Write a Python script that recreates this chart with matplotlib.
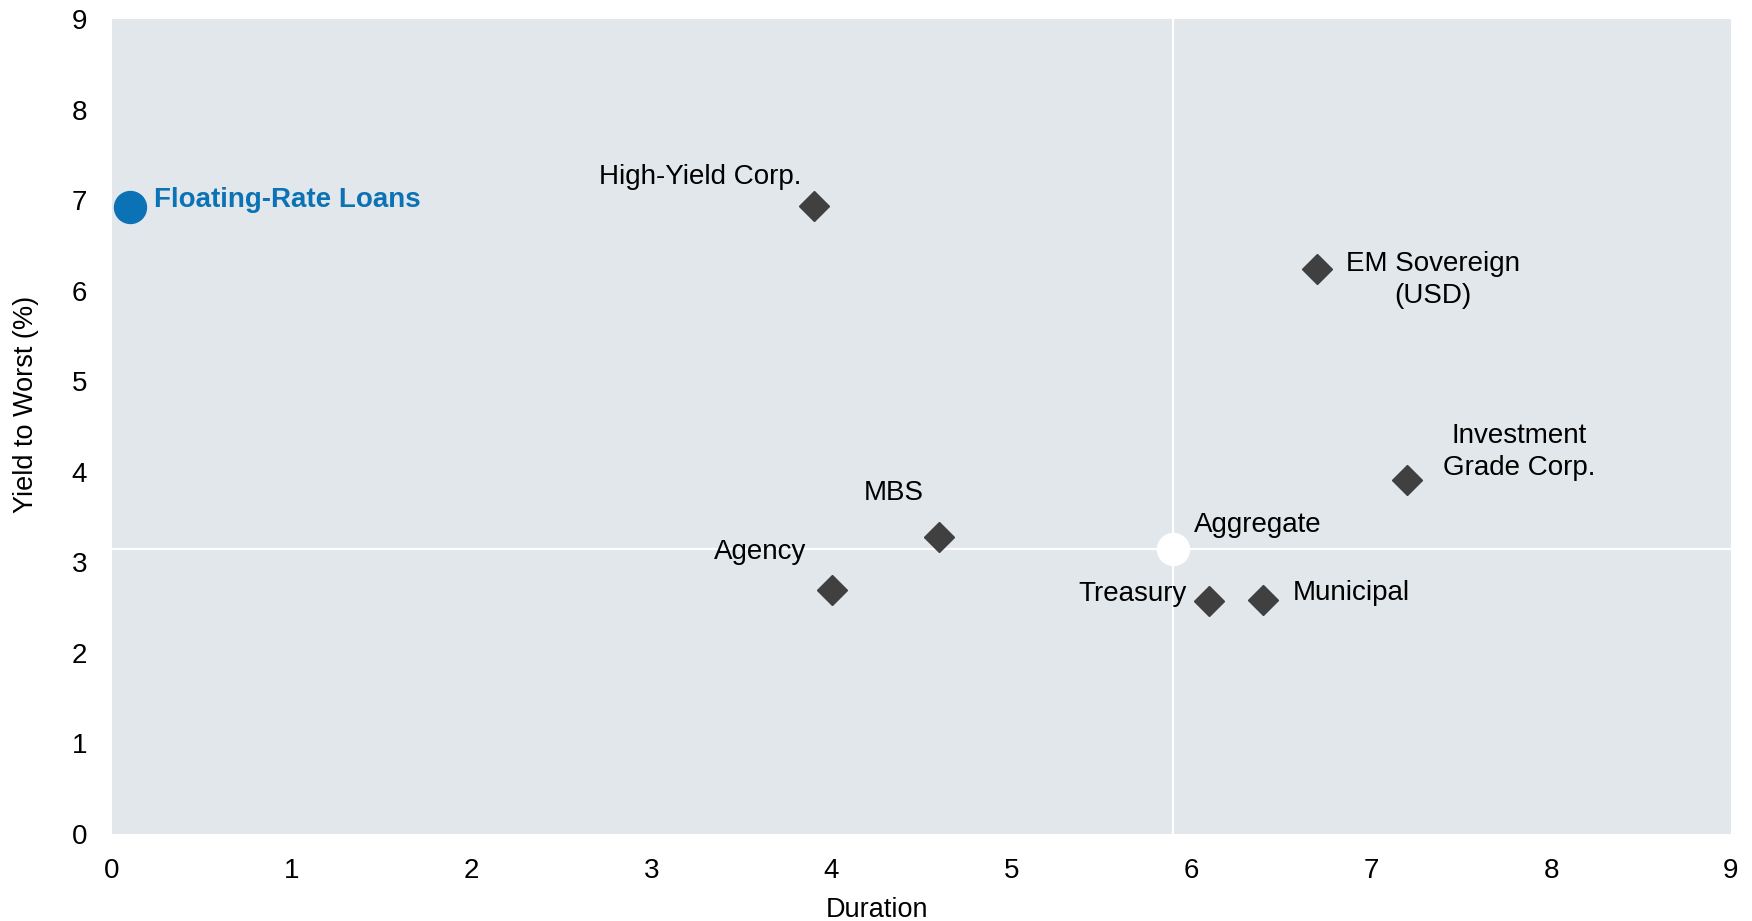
import matplotlib
matplotlib.use("Agg")
import matplotlib.pyplot as plt

plt.rcParams["font.family"] = ["Liberation Sans", "DejaVu Sans"]

# duration / yield-to-worst by sector
sectors = ["High-Yield Corp.", "EM Sovereign\n(USD)", "Investment\nGrade Corp.",
           "MBS", "Agency", "Treasury", "Municipal"]
durations = [3.90, 6.70, 7.20, 4.60, 4.00, 6.10, 6.40]
yields = [6.94, 6.24, 3.91, 3.28, 2.69, 2.57, 2.58]

loans_label = "Floating-Rate Loans"
loans_duration = 0.10
loans_yield = 6.92

agg_label = "Aggregate"
agg_duration = 5.90
agg_yield = 3.15

x_ticks = list(range(0, 10))
y_ticks = list(range(0, 10))

# label offsets in points (baseline of the last line) and alignment
label_style = {
    "High-Yield Corp.": ((-8.5, 15.5), "right"),
    "EM Sovereign\n(USD)": ((83, -24.5), "center"),
    "Investment\nGrade Corp.": ((80.5, 3.5), "center"),
    "MBS": ((-11, 26.5), "right"),
    "Agency": ((-18.5, 22.5), "right"),
    "Treasury": ((-16, 0), "right"),
    "Municipal": ((21, 0), "left"),
}

BG = "#e2e7eb"
MARK = "#404040"
BLUE = "#0b72b5"

fig = plt.figure(figsize=(17.52, 9.21), dpi=100)
ax = fig.add_axes([0.0639, 0.0945, 0.9241, 0.8849])
ax.set_facecolor(BG)

ax.set_xlim(0, 9)
ax.set_ylim(0, 9)
ax.set_xticks(x_ticks)
ax.set_yticks(y_ticks)
ax.tick_params(length=0, labelsize=20, pad=18)
ax.tick_params(axis="x", pad=17)
for s in ax.spines.values():
    s.set_visible(False)

# crosshair through the aggregate index
ax.axvline(agg_duration, color="white", lw=1.6, zorder=1)
ax.axhline(agg_yield, color="white", lw=1.6, zorder=1)

ax.plot(durations, yields, linestyle="none", marker="D", ms=15.5,
        color=MARK, zorder=3)
for name, x, y in zip(sectors, durations, yields):
    off, ha = label_style[name]
    ax.annotate(name, (x, y), xytext=off, textcoords="offset points",
                ha=ha, va="baseline", multialignment="center",
                fontsize=20, color="black", linespacing=1.28)

ax.plot([agg_duration], [agg_yield], linestyle="none", marker="o", ms=23,
        color="white", zorder=3)
ax.annotate(agg_label, (agg_duration, agg_yield), xytext=(14.5, 12),
            textcoords="offset points", ha="left", va="baseline",
            fontsize=20, color="black")

ax.plot([loans_duration], [loans_yield], linestyle="none", marker="o", ms=23,
        color=BLUE, zorder=3)
ax.annotate(loans_label, (loans_duration, loans_yield), xytext=(17, 0),
            textcoords="offset points", ha="left", va="baseline",
            fontsize=20, fontweight="bold", color=BLUE)

ax.set_xlabel("Duration", fontsize=19.5)
ax.set_ylabel("Yield to Worst (%)", fontsize=19.5)
ax.xaxis.set_label_coords(0.4725, -0.077)
ax.yaxis.set_label_coords(-0.045, 0.527)

fig.savefig("out.png", dpi=100)
